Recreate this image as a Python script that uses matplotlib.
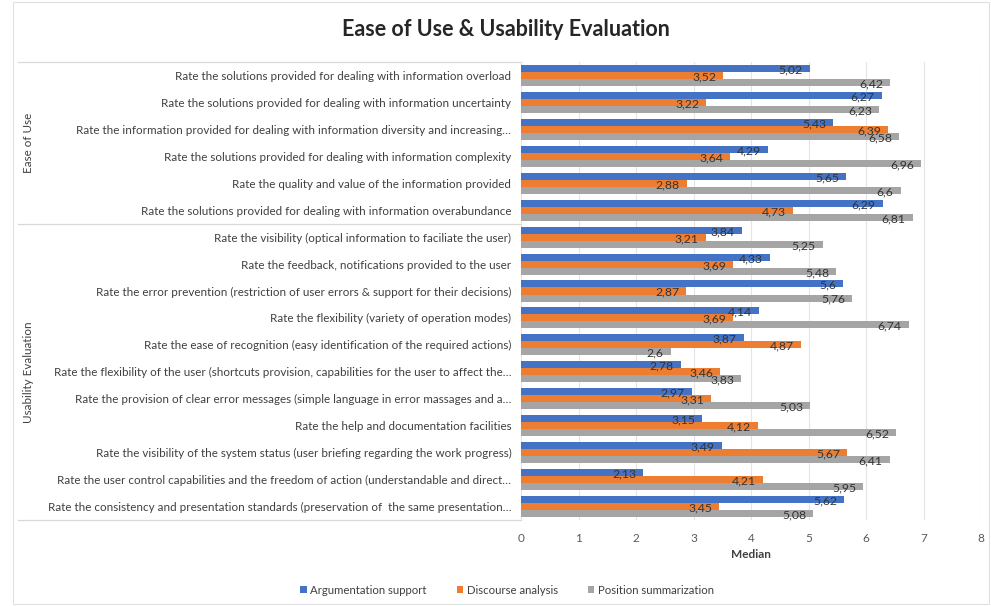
import matplotlib
matplotlib.use("Agg")
import matplotlib.pyplot as plt
import matplotlib.transforms as mtransforms
from matplotlib.patches import Rectangle
import numpy as np

plt.rcParams['font.family'] = ['Lato', 'DejaVu Sans']

# Questions, top to bottom
questions = [
    "Rate the solutions provided for dealing with information overload",
    "Rate the solutions provided for dealing with information uncertainty",
    "Rate the information provided for dealing with information diversity and increasing…",
    "Rate the solutions provided for dealing with information complexity",
    "Rate the quality and value of the information provided",
    "Rate the solutions provided for dealing with information overabundance",
    "Rate the visibility (optical information to faciliate the user)",
    "Rate the feedback, notifications provided to the user",
    "Rate the error prevention (restriction of user errors & support for their decisions)",
    "Rate the flexibility (variety of operation modes)",
    "Rate the ease of recognition (easy identification of the required actions)",
    "Rate the flexibility of the user (shortcuts provision, capabilities for the user to affect the…",
    "Rate the provision of clear error messages (simple language in error massages and a…",
    "Rate the help and documentation facilities",
    "Rate the visibility of the system status (user briefing regarding the work progress)",
    "Rate the user control capabilities and the freedom of action (understandable and direct…",
    "Rate the consistency and presentation standards (preservation of  the same presentation…",
]
groups = ["Ease of Use", "Usability Evaluation"]
group_sizes = [6, 11]

argumentation = [5.02, 6.27, 5.43, 4.29, 5.65, 6.29, 3.84, 4.33, 5.6, 4.14, 3.87, 2.78, 2.97, 3.15, 3.49, 2.13, 5.62]
discourse = [3.52, 3.22, 6.39, 3.64, 2.88, 4.73, 3.21, 3.69, 2.87, 3.69, 4.87, 3.46, 3.31, 4.12, 5.67, 4.21, 3.45]
summarization = [6.42, 6.23, 6.58, 6.96, 6.6, 6.81, 5.25, 5.48, 5.76, 6.74, 2.6, 3.83, 5.03, 6.52, 6.41, 5.95, 5.08]

series = [
    ("Argumentation support", argumentation, "#4472C4"),
    ("Discourse analysis", discourse, "#ED7D31"),
    ("Position summarization", summarization, "#A5A5A5"),
]

fig = plt.figure(figsize=(9.91, 6.06), dpi=100)
ax = fig.add_axes([521 / 991, 1 - 520 / 606, 460 / 991, 458 / 606])

y = np.arange(len(questions))
h = 0.26
for k, (name, vals, color) in enumerate(series):
    pos = y + (k - 1) * h
    ax.barh(pos, vals, height=h, color=color, label=name, zorder=3)
    for p, v in zip(pos, vals):
        ax.annotate(f"{v:g}".replace(".", ","), (v, p), xytext=(-5, -1),
                    textcoords="offset points", ha="right", va="center",
                    fontsize=8.8, color="#333333", zorder=4)

ax.set_ylim(len(questions) - 0.5, -0.5)
ax.set_xlim(0, 8)
ax.set_xticks(range(0, 9))
ax.set_yticks(y)
ax.set_yticklabels(questions, fontsize=8.4, color="#404040")
ax.tick_params(axis="y", length=0, pad=7)
ax.tick_params(axis="x", length=0, pad=9, labelsize=8.5, labelcolor="#595959")
ax.grid(axis="x", color="#E4E4E4", linewidth=0.8, zorder=0)
for s in ax.spines.values():
    s.set_visible(False)
ax.set_xlabel("Median", fontsize=8.5, fontweight="bold", color="#404040", labelpad=4)

# multi-level category axis: separators and group names
trans = mtransforms.blended_transform_factory(fig.transFigure, ax.transData)
bounds = [-0.5]
for n in group_sizes:
    bounds.append(bounds[-1] + n)
for b in bounds:
    ax.plot([18 / 991, 521 / 991], [b, b], transform=trans, color="#D9D9D9",
            linewidth=0.9, clip_on=False)
for g, lo, hi in zip(groups, bounds[:-1], bounds[1:]):
    ax.text(28 / 991, (lo + hi) / 2, g, transform=trans, rotation=90,
            ha="center", va="center", fontsize=8.4, color="#404040")

fig.text(506 / 991, 1 - 30 / 606, "Ease of Use & Usability Evaluation",
         ha="center", va="center", fontsize=15.5, fontweight="bold", color="#262626")

fig.legend(loc="center", bbox_to_anchor=(507 / 991, 1 - 590 / 606), ncol=3,
           frameon=False, fontsize=8.2, handlelength=0.6, handleheight=0.6,
           handletextpad=0.3, columnspacing=2.6, labelcolor="#404040")

fig.patches.append(Rectangle((13 / 991, 2 / 606), 976 / 991, 602 / 606,
                             transform=fig.transFigure, fill=False,
                             edgecolor="#E0E0E0", linewidth=0.8))

fig.savefig("out.png", dpi=100)
